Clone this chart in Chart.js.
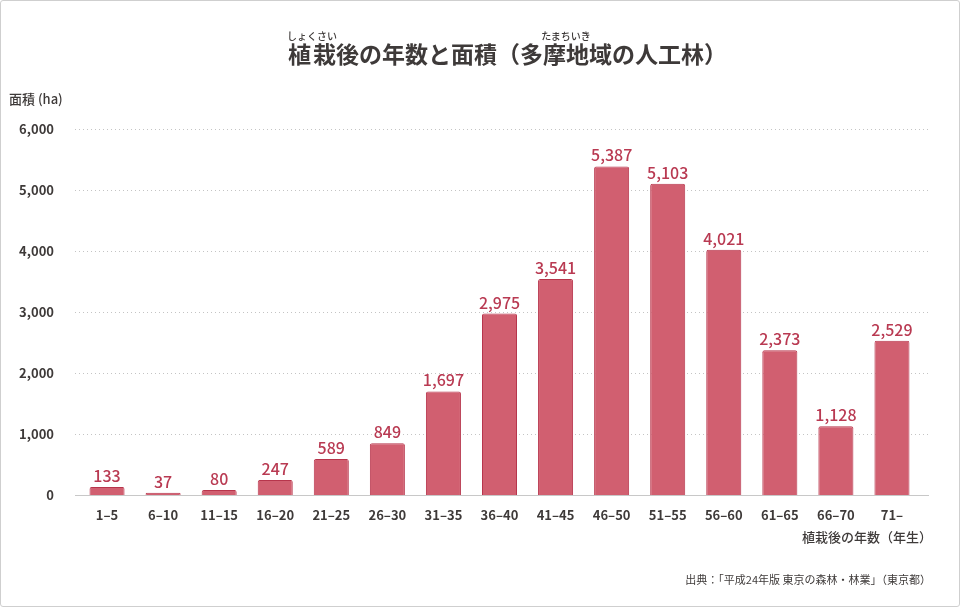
<!DOCTYPE html>
<html lang="ja">
<head>
<meta charset="utf-8">
<script src="https://cdn.jsdelivr.net/npm/chart.js@4/dist/chart.umd.min.js"></script>
<style>
  html, body { margin: 0; padding: 0; background: #fff; }
  #wrap { position: relative; width: 960px; height: 607px; box-sizing: border-box; border: 1px solid #cfcfcf; border-radius: 3px; overflow: hidden; font-family: "Noto Sans CJK JP", sans-serif; color: #3e3a39; }
  #c { position: absolute; left: 0; top: 0; }
  .t { position: absolute; white-space: nowrap; }
  #title { left: 0; width: 1012px; text-align: center; top: 30px; font-size: 23px; font-weight: 700; line-height: 1.2; }
  #title rt { font-size: 10px; font-weight: 500; ruby-align: center; line-height: 1; }
  #ytitle { left: 8px; top: 88px; font-size: 13px; font-weight: 500; }
  #xtitle { right: 27px; top: 526px; font-size: 13px; font-weight: 500; }
  #src { right: 28px; top: 570px; font-size: 11px; font-weight: 400; }
</style>
</head>
<body>
<div id="wrap">
  <canvas id="c" width="958" height="605"></canvas>
  <div class="t" id="title"><ruby>植栽<rt>しょくさい</rt></ruby>後の年数と面積（<ruby>多摩地域<rt>たまちいき</rt></ruby>の人工林）</div>
  <div class="t" id="ytitle">面積 (ha)</div>
  <div class="t" id="xtitle">植栽後の年数（年生）</div>
  <div class="t" id="src">出典：「平成24年版 東京の森林・林業」（東京都）</div>
</div>
<script>
const categories = ["1–5","6–10","11–15","16–20","21–25","26–30","31–35","36–40","41–45","46–50","51–55","56–60","61–65","66–70","71–"];
const areaHa = [133,37,80,247,589,849,1697,2975,3541,5387,5103,4021,2373,1128,2529];
const yTicks = [0,1000,2000,3000,4000,5000,6000];

const FONT = '"Noto Sans CJK JP", sans-serif';
const TEXT = '#3e3a39';

const gridPlugin = {
  id: 'grid',
  beforeDatasetsDraw(chart) {
    const ctx = chart.ctx, y = chart.scales.y;
    ctx.save();
    yTicks.forEach(v => {
      const py = Math.round(y.getPixelForValue(v)) + 0.5;
      ctx.beginPath();
      if (v === 0) { ctx.setLineDash([]); ctx.strokeStyle = '#c8c8c8'; }
      else { ctx.setLineDash([1, 3]); ctx.strokeStyle = '#c4c4c4'; }
      ctx.lineWidth = 1;
      ctx.moveTo(74, py); ctx.lineTo(928, py); ctx.stroke();
    });
    ctx.restore();
  }
};
const labelPlugin = {
  id: 'vals',
  afterDatasetsDraw(chart) {
    const ctx = chart.ctx, meta = chart.getDatasetMeta(0);
    ctx.save();
    ctx.font = '500 16px ' + FONT;
    ctx.fillStyle = '#b93a52';
    ctx.textAlign = 'center';
    ctx.textBaseline = 'alphabetic';
    meta.data.forEach((bar, i) => {
      ctx.fillText(areaHa[i].toLocaleString('en-US'), bar.x, bar.y - 5);
    });
    ctx.restore();
  }
};

new Chart(document.getElementById('c'), {
  type: 'bar',
  data: {
    labels: categories,
    datasets: [{
      data: areaHa,
      backgroundColor: '#d15f70',
      borderColor: '#b7354c',
      borderWidth: 1,
      borderSkipped: 'bottom',
      borderRadius: { topLeft: 2, topRight: 2 },
      barPercentage: 0.625,
      categoryPercentage: 1
    }]
  },
  options: {
    responsive: false,
    animation: false,
    devicePixelRatio: 1,
    layout: { padding: { left: 0, right: 39, top: 128, bottom: 81 } },
    plugins: { legend: { display: false }, tooltip: { enabled: false }, title: { display: false } },
    scales: {
      x: {
        grid: { display: false },
        border: { display: false },
        ticks: { color: TEXT, font: { family: FONT, size: 13, weight: '700' }, padding: 4, maxRotation: 0, autoSkip: false },
        afterFit(s) { s.height = 30; }
      },
      y: {
        min: 0, max: 6000,
        afterBuildTicks(s) { s.ticks = yTicks.map(v => ({ value: v })); },
        grid: { display: false },
        border: { display: false },
        ticks: { color: TEXT, font: { family: FONT, size: 13, weight: '700' }, padding: 17,
                 callback: v => v.toLocaleString('en-US') },
        afterFit(s) { s.width = 78; }
      }
    }
  },
  plugins: [gridPlugin, labelPlugin]
});
</script>
</body>
</html>
